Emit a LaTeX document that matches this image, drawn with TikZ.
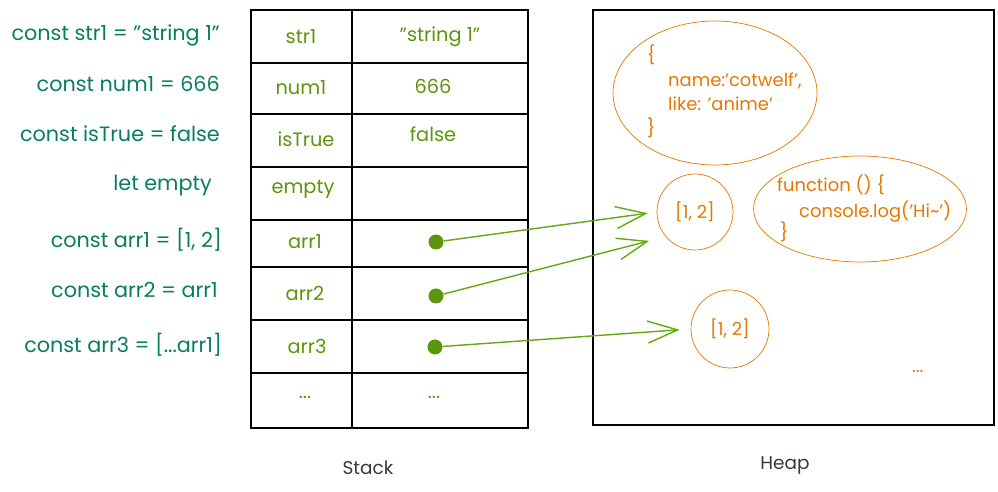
\documentclass[tikz,border=0pt]{standalone}
\usepackage{fontspec}
\setmainfont{Poppins}
\usetikzlibrary{arrows.meta,shapes.geometric}

\definecolor{codegreen}{HTML}{087F5B}
\definecolor{stackgreen}{HTML}{5C940D}
\definecolor{arrowgreen}{HTML}{66A80F}
\definecolor{heaporange}{HTML}{E67700}
\definecolor{labelgray}{HTML}{343A40}

\tikzset{
  code/.style={anchor=east,text=codegreen,font=\fontsize{11.8}{14}\selectfont},
  cell/.style={text=stackgreen,font=\fontsize{11}{13}\selectfont},
  heaptext/.style={anchor=west,text=heaporange,font=\fontsize{10.2}{12}\selectfont},
  ptr/.style={circle,fill=stackgreen,inner sep=0pt,minimum size=0.3cm},
  ref/.style={draw=arrowgreen,line width=0.8pt,-{Straight Barb[length=6mm,width=4.4mm]}},
  title/.style={text=labelgray,font=\fontsize{10.5}{12}\selectfont}
}

\begin{document}
\begin{tikzpicture}[x=0.02cm,y=-0.02cm]
    \useasboundingbox (0,0) rectangle (998,492);

    % code on the left
    \node[code] (cstr) at (226,35) {const str1 = "string 1"};
    \node[code] (cnum) at (226,84) {const num1 = 666};
    \node[code] (cbool) at (226,134) {const isTrue = false};
    \node[code] (cempty) at (218,186) {let empty};
    \node[code] (carr1) at (228,240) {const arr1 = [1, 2]};
    \node[code] (carr2) at (224,290) {const arr2 = arr1};
    \node[code] (carr3) at (228,345) {const arr3 = [...arr1]};

    % stack
    \draw[thick] (251,10) rectangle (528,428);
    \draw[thick] (352,10) -- (352,428);
    \foreach \y in {63,114,167,220,267,320,373}
      \draw[thick] (251,\y) -- (528,\y);

    \node[cell] (kstr) at (301,37) {str1};
    \node[cell] (vstr) at (440,37) {"string 1"};
    \node[cell] (knum) at (301,88) {num1};
    \node[cell] (vnum) at (433,86) {666};
    \node[cell] (kbool) at (306,139) {isTrue};
    \node[cell] (vbool) at (433,134) {false};
    \node[cell] (kempty) at (303,189) {empty};
    \node[cell] (karr1) at (305,242) {arr1};
    \node[cell] (karr2) at (305,293) {arr2};
    \node[cell] (karr3) at (307,346) {arr3};
    \node[cell] (kmore) at (305,397) {...};
    \node[cell] (vmore) at (434,397) {...};

    \node[ptr] (p1) at (436,242) {};
    \node[ptr] (p2) at (436,296) {};
    \node[ptr] (p3) at (435,347) {};

    \node[title] (stack) at (368,468) {Stack};

    % heap
    \draw[thick] (593,10) rectangle (994,425);

    \node[draw=heaporange,ellipse,minimum width=4.08cm,minimum height=2.88cm] (obj) at (715,93) {};
    \node[heaptext] (ob) at (641,55) {\{};
    \node[heaptext] (oname) at (662,81) {name:'cotwelf',};
    \node[heaptext] (olike) at (662,104) {like: 'anime'};
    \node[heaptext] (oe) at (641,128) {\}};

    \node[draw=heaporange,circle,minimum size=1.52cm,text=heaporange,
      font=\fontsize{10.2}{12}\selectfont] (a1) at (695,212) {[1, 2]};

    \node[draw=heaporange,ellipse,minimum width=4.26cm,minimum height=2.12cm] (fn) at (860,209) {};
    \node[heaptext] (fhead) at (771,185) {function () \{};
    \node[heaptext] (fbody) at (793,212) {console.log('Hi\textasciitilde')};
    \node[heaptext] (fend) at (774,232) {\}};

    \node[draw=heaporange,circle,minimum size=1.56cm,text=heaporange,
      font=\fontsize{10.2}{12}\selectfont] (a2) at (730,329) {[1, 2]};

    \node[heaptext] (hmore) at (906,372) {...};

    \node[title] (heap) at (785,465) {Heap};

    % references
    \draw[ref,shorten >=1.8mm] (p1) -- (a1.west);
    \draw[ref,shorten >=3.4mm] (p2) -- (a1.220);
    \draw[ref,shorten >=2.2mm] (p3) -- (a2.west);
\end{tikzpicture}
\end{document}
